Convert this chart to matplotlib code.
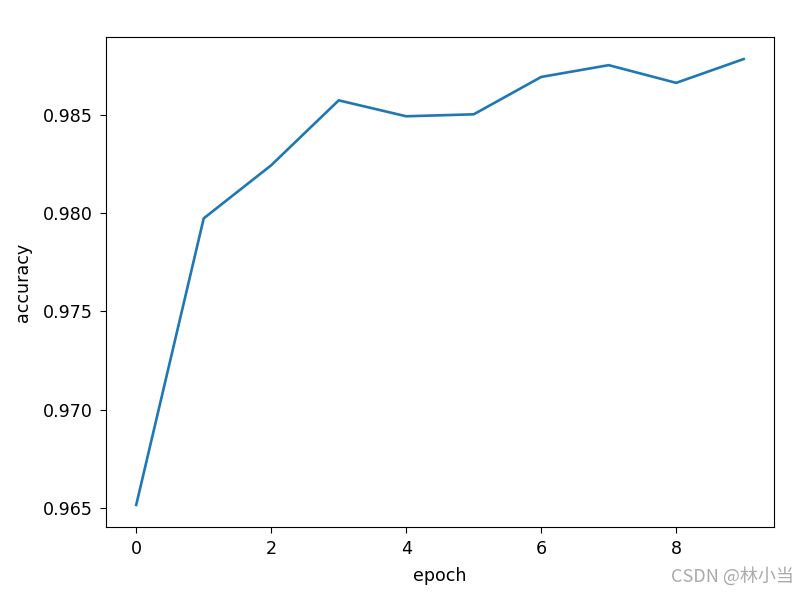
import matplotlib
matplotlib.use("Agg")
import matplotlib.pyplot as plt

epochs = [0, 1, 2, 3, 4, 5, 6, 7, 8, 9]
accuracy = [0.96515, 0.97972, 0.98242, 0.98572, 0.98491, 0.98501, 0.98691, 0.98751, 0.98661, 0.98782]

fig = plt.figure(figsize=(8.08, 5.93), dpi=100)
ax = fig.add_axes([0.131, 0.111, 0.827, 0.827])
ax.plot(epochs, accuracy, color="#1f77b4", linewidth=1.9)
ax.set_xlabel("epoch", fontsize=12.6, labelpad=6)
ax.set_ylabel("accuracy", fontsize=12.6, labelpad=8)
ax.tick_params(labelsize=12.6, length=4.4, pad=5)

# watermark
fig.text(0.982, 0.012, "CSDN @林小当", ha="right", va="bottom", fontsize=13,
         color="#aaaaaa", family=["Noto Sans CJK SC", "DejaVu Sans"])

fig.savefig("out.png", dpi=100)
